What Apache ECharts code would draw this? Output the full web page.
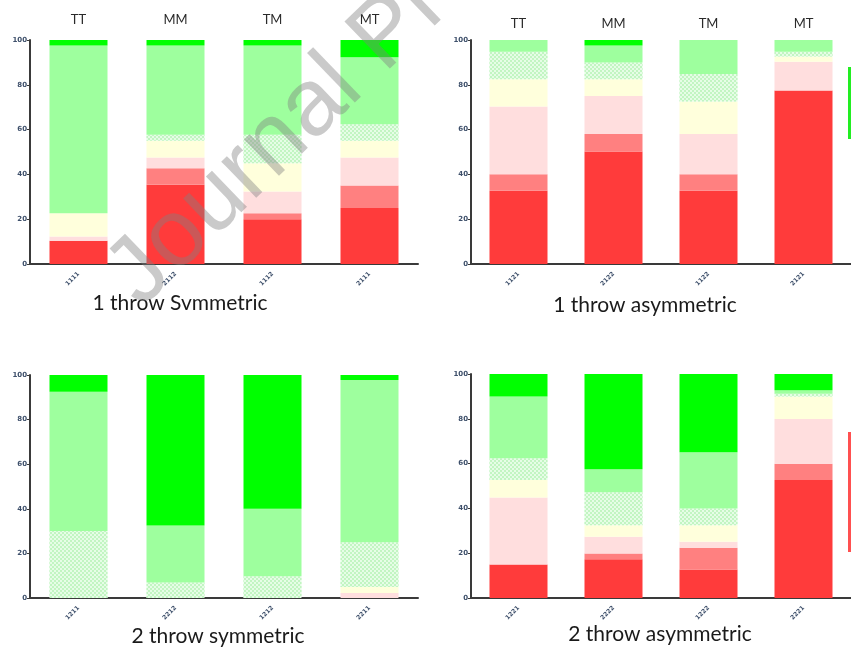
<!DOCTYPE html>
<html>
<head>
<meta charset="utf-8">
<script src="https://cdn.jsdelivr.net/npm/echarts@6/dist/echarts.min.js"></script>
<style>html,body{margin:0;padding:0;background:#fff}#c{width:851px;height:648px}</style>
</head>
<body>
<div id="c"></div>
<script>
// ---- Data ----
const segmentNames = ['red', 'salmon', 'pink', 'yellow', 'pattern', 'lightgreen', 'green'];
const topLabels = ['TT', 'MM', 'TM', 'MT'];

const cats1 = ['1111', '2112', '1112', '2111'];
const cats2 = ['1121', '2122', '1122', '2121'];
const cats3 = ['1211', '2212', '1212', '2211'];
const cats4 = ['1221', '2222', '1222', '2221'];

const panelTitles = ['1 throw Svmmetric', '1 throw asymmetric', '2 throw symmetric', '2 throw asymmetric'];

// rows = segments (bottom to top), columns = bars
const oneThrowSym = [
  [10.4, 35.4, 20.0, 25.0],
  [0.0, 7.4, 2.7, 10.0],
  [1.9, 4.7, 9.7, 12.5],
  [10.4, 7.5, 12.6, 7.5],
  [0.0, 2.7, 12.7, 7.4],
  [74.8, 39.8, 39.8, 29.9],
  [2.5, 2.5, 2.5, 7.7]
];
const oneThrowAsym = [
  [32.7, 50.2, 32.7, 77.4],
  [7.4, 7.8, 7.4, 0.0],
  [30.2, 17.0, 17.9, 12.9],
  [12.2, 7.5, 14.5, 2.3],
  [12.3, 7.5, 12.3, 2.2],
  [5.2, 7.5, 15.2, 5.2],
  [0.0, 2.5, 0.0, 0.0]
];
const twoThrowSym = [
  [0, 0, 0, 0],
  [0, 0, 0, 0],
  [0, 0, 0, 2.2],
  [0, 0, 0, 2.7],
  [30.0, 6.9, 9.7, 20.1],
  [62.5, 25.6, 30.3, 72.8],
  [7.5, 67.5, 60.0, 2.2]
];
const twoThrowAsym = [
  [14.9, 17.3, 12.7, 52.7],
  [0.0, 2.6, 9.7, 7.2],
  [30.0, 7.4, 2.7, 20.0],
  [7.8, 5.2, 7.4, 10.1],
  [9.7, 14.7, 7.5, 1.2],
  [27.6, 10.3, 25.1, 1.5],
  [10.0, 42.5, 34.9, 7.3]
];

// ---- Styles ----
const segColors = ['#ff3b3b', '#ff8080', '#ffdede', '#ffffdc', '#e6fde6', '#9eff9e', '#00ff00'];
const patternDecal = {
  symbol: 'rect', symbolSize: 1, color: '#c2f5c2',
  dashArrayX: [[2, 2], [0, 2, 2, 0]], dashArrayY: [2, 0], rotation: 0
};

const panels = [
  { cats: cats1, data: oneThrowSym, left: 30, top: 40, height: 224, topAxis: true, topMargin: 14 },
  { cats: cats2, data: oneThrowAsym, left: 471, top: 40, height: 224, topAxis: true, topMargin: 10 },
  { cats: cats3, data: twoThrowSym, left: 30, top: 375, height: 223, topAxis: false },
  { cats: cats4, data: twoThrowAsym, left: 471, top: 374, height: 224, topAxis: false }
];

const grids = [], xAxes = [], yAxes = [], series = [];
panels.forEach((p, i) => {
  grids.push({ left: p.left, top: p.top, width: 388, height: p.height, containLabel: false });
  xAxes.push({
    type: 'category', gridIndex: i, data: p.cats, position: 'bottom',
    axisLine: { lineStyle: { color: '#3a3a3a', width: 2 } },
    axisTick: { alignWithLabel: true, length: 3, lineStyle: { color: '#3a3a3a' } },
    axisLabel: { rotate: 45, fontSize: 6, fontWeight: 'bold', color: '#3d4f6a', margin: 9, fontFamily: 'DejaVu Sans' }
  });
  yAxes.push({
    type: 'value', gridIndex: i, min: 0, max: 100, interval: 20,
    axisLine: { show: true, lineStyle: { color: '#3a3a3a', width: 2 } },
    axisTick: { show: true, length: 3, lineStyle: { color: '#3a3a3a' } },
    splitLine: { show: false },
    axisLabel: { fontSize: 7, fontWeight: 'bold', color: '#3d4f6a', margin: 3, fontFamily: 'DejaVu Sans' }
  });
  segmentNames.forEach((name, s) => {
    const item = { color: segColors[s] };
    if (name === 'pattern') item.decal = patternDecal;
    series.push({
      type: 'bar', name: name, stack: 'p' + i, xAxisIndex: i, yAxisIndex: i,
      barWidth: 58, data: p.data[s], itemStyle: item, silent: true, animation: false
    });
  });
});
// top labels as secondary category axes
panels.forEach((p, i) => {
  if (!p.topAxis) return;
  xAxes.push({
    type: 'category', gridIndex: i, data: topLabels, position: 'top',
    axisLine: { show: false }, axisTick: { show: false },
    axisLabel: { fontSize: 13, color: '#2a2a2a', margin: p.topMargin, fontFamily: 'Lato' }
  });
});

const titlePos = [[180, 303], [645, 305], [218, 636], [660, 634]];
const graphics = panelTitles.map((t, i) => ({
  type: 'text', x: titlePos[i][0], y: titlePos[i][1], z: 50,
  style: { text: t, font: '21px Lato', fill: '#1a1a1a', textAlign: 'center', textVerticalAlign: 'middle' }
}));
// watermark
graphics.push({
  type: 'text', x: 156, y: 324, rotation: 44 * Math.PI / 180, z: 100,
  style: { text: 'Journal Pre-proof', font: '95px "Liberation Sans"', fill: 'rgba(128,128,128,0.42)', textAlign: 'left', textVerticalAlign: 'bottom' }
});
// clipped legend strip at right edge
graphics.push({ type: 'rect', shape: { x: 848, y: 67, width: 3, height: 72 }, style: { fill: '#22ee22' }, z: 10 });
graphics.push({ type: 'rect', shape: { x: 848, y: 432, width: 3, height: 120 }, style: { fill: '#ff5050' }, z: 10 });

const chart = echarts.init(document.getElementById('c'), null, { renderer: 'canvas' });
chart.setOption({
  backgroundColor: '#ffffff',
  animation: false,
  grid: grids, xAxis: xAxes, yAxis: yAxes, series: series,
  graphic: graphics
});
</script>
</body>
</html>
